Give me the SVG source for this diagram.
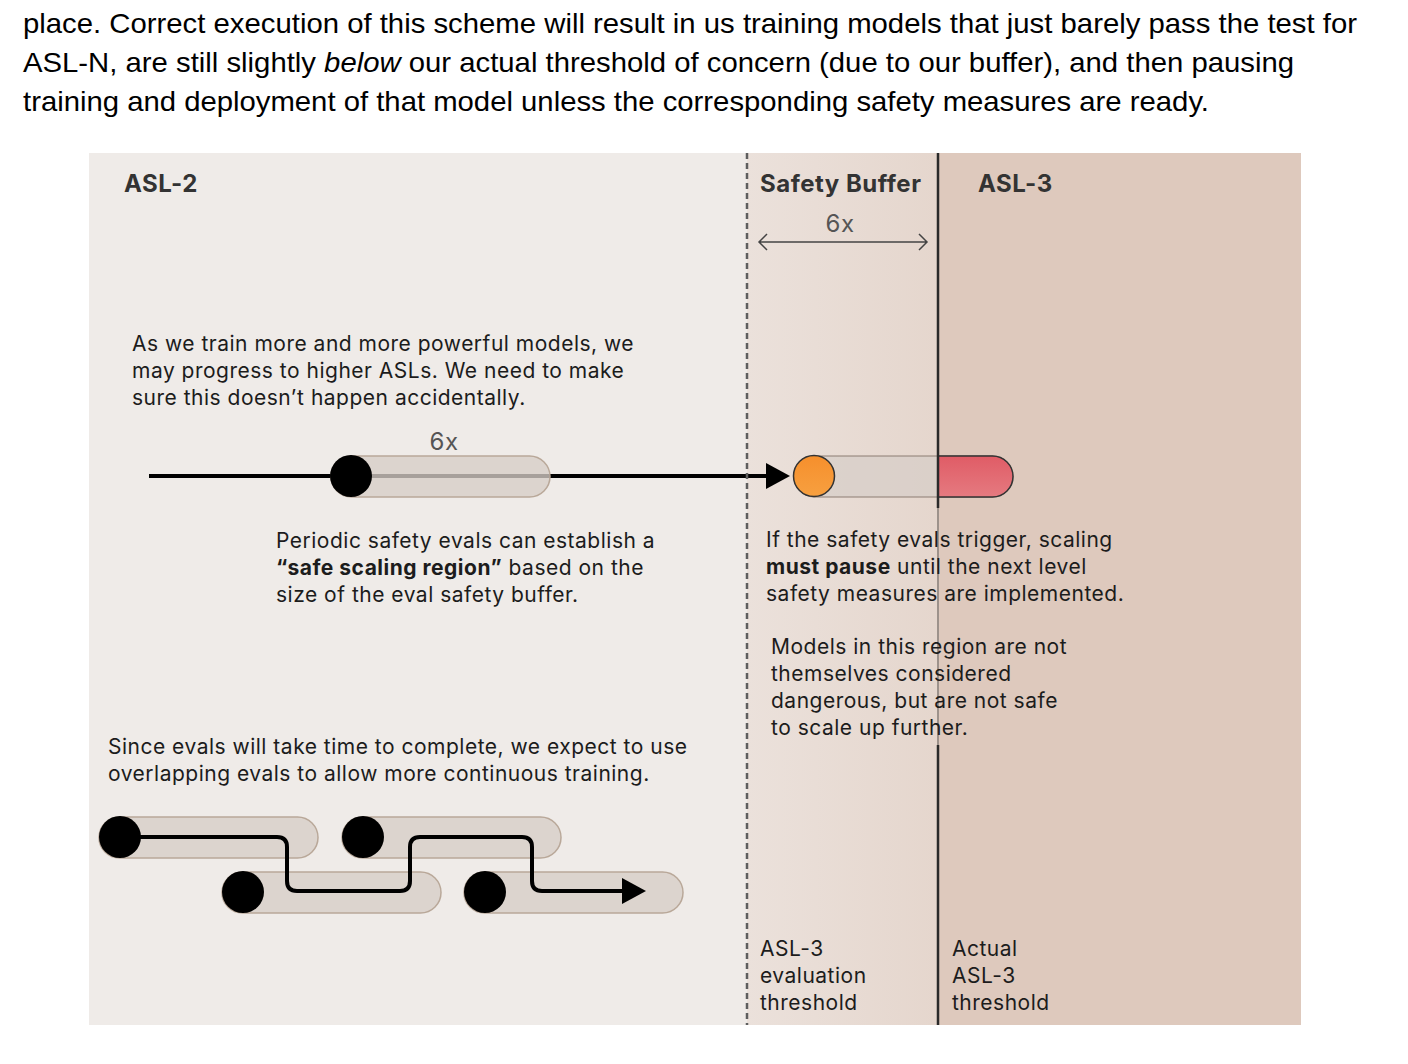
<svg xmlns="http://www.w3.org/2000/svg" width="1408" height="1064" viewBox="0 0 1408 1064">
  <style>
    .top { font-family: "Liberation Sans", Arial, sans-serif; font-size: 28px; fill: #000; }
    .hd { font-family: Inter, "Noto Sans", sans-serif; font-size: 24px; font-weight: 700; fill: #333; letter-spacing: 0.5px; }
    .body { font-family: Inter, "Noto Sans", sans-serif; font-size: 21px; fill: #1c1c1c; letter-spacing: 0.5px; }
    .num { font-family: Inter, "Noto Sans", sans-serif; font-size: 24px; fill: #555; text-anchor: middle; letter-spacing: 0.5px; }
    .b { font-weight: 700; }
    .cap { fill: #d6cdc7; fill-opacity: 0.78; stroke: #b9a899; stroke-width: 1.5; }
    .dot { fill: #000; }
    .conn { fill: none; stroke: #000; stroke-width: 4; }
  </style>
  <defs>
    <linearGradient id="bufGrad" x1="0" y1="0" x2="1" y2="0">
      <stop offset="0" stop-color="#ebe1db"/>
      <stop offset="1" stop-color="#e5d6cd"/>
    </linearGradient>
    <linearGradient id="redGrad" x1="0" y1="0" x2="0" y2="1">
      <stop offset="0" stop-color="#e05c66"/>
      <stop offset="1" stop-color="#e57a80"/>
    </linearGradient>
    <linearGradient id="orGrad" x1="0" y1="0" x2="0" y2="1">
      <stop offset="0" stop-color="#f68f2c"/>
      <stop offset="1" stop-color="#f7a040"/>
    </linearGradient>
  </defs>

  <rect x="0" y="0" width="1408" height="1064" fill="#fff"/>

  <g id="intro-text">
    <text class="top" x="23" y="33" textLength="1334" lengthAdjust="spacingAndGlyphs">place. Correct execution of this scheme will result in us training models that just barely pass the test for</text>
    <text class="top" x="23" y="72" textLength="1271" lengthAdjust="spacingAndGlyphs">ASL-N, are still slightly <tspan font-style="italic">below</tspan> our actual threshold of concern (due to our buffer), and then pausing</text>
    <text class="top" x="23" y="111" textLength="1186" lengthAdjust="spacingAndGlyphs">training and deployment of that model unless the corresponding safety measures are ready.</text>
  </g>

  <g id="regions">
    <rect id="asl2-region" x="89" y="153" width="658" height="872" fill="#efebe8"/>
    <rect id="buffer-region" x="747" y="153" width="191" height="872" fill="url(#bufGrad)"/>
    <rect id="asl3-region" x="938" y="153" width="363" height="872" fill="#dec9bd"/>
  </g>

  <g id="headers">
    <text id="asl2-title" class="hd" x="124" y="192">ASL-2</text>
    <text id="buffer-title" class="hd" x="760" y="192">Safety Buffer</text>
    <text id="asl3-title" class="hd" x="978" y="192">ASL-3</text>
  </g>

  <g id="buffer-span">
    <text class="num" x="840" y="232">6x</text>
    <path d="M759,242 H927 M767,234 L759,242 L767,250 M919,234 L927,242 L919,250" fill="none" stroke="#444" stroke-width="1.5"/>
  </g>

  <g id="text-progress">
    <text class="body" x="132" y="351">As we train more and more powerful models, we</text>
    <text class="body" x="132" y="378">may progress to higher ASLs. We need to make</text>
    <text class="body" x="132" y="405">sure this doesn’t happen accidentally.</text>
  </g>

  <g id="connectors">
    <line x1="149" y1="476" x2="768" y2="476" stroke="#000" stroke-width="4"/>
    <polygon points="766,463 790,476 766,489" fill="#000"/>
  </g>

  <g id="eval-window">
    <text class="num" x="444" y="450">6x</text>
    <rect class="cap" x="331" y="456" width="219" height="41" rx="20.5"/>
    <circle class="dot" cx="351" cy="476" r="21"/>
  </g>

  <g id="triggered-model">
    <rect x="794" y="456" width="219" height="41" rx="20.5" fill="#d6cdc7" fill-opacity="0.7" stroke="#8c7d73" stroke-width="1"/>
    <path d="M938,456 H992.5 A20.5,20.5 0 0 1 992.5,497 H938 Z" fill="url(#redGrad)" stroke="#333" stroke-width="1.5"/>
    <circle cx="814" cy="476" r="20.5" fill="url(#orGrad)" stroke="#333" stroke-width="1.5"/>
  </g>

  <g id="thresholds">
    <line id="eval-threshold" x1="747" y1="153" x2="747" y2="1025" stroke="#5e5e5e" stroke-width="2.5" stroke-dasharray="6 4"/>
    <line id="actual-threshold" x1="938" y1="153" x2="938" y2="508" stroke="#2a2a2a" stroke-width="2.5"/>
    <line x1="938" y1="508" x2="938" y2="745" stroke="#9d928b" stroke-width="2"/>
    <line x1="938" y1="745" x2="938" y2="1025" stroke="#2a2a2a" stroke-width="2.5"/>
  </g>

  <g id="text-periodic">
    <text class="body" x="276" y="548">Periodic safety evals can establish a</text>
    <text class="body" x="276" y="575"><tspan class="b">“safe scaling region”</tspan> based on the</text>
    <text class="body" x="276" y="602">size of the eval safety buffer.</text>
  </g>

  <g id="text-trigger">
    <text class="body" x="766" y="547">If the safety evals trigger, scaling</text>
    <text class="body" x="766" y="574"><tspan class="b">must pause</tspan> until the next level</text>
    <text class="body" x="766" y="601" fill="#3a3a3a">safety measures are implemented.</text>
  </g>

  <g id="text-buffer-models">
    <text class="body" x="771" y="654">Models in this region are not</text>
    <text class="body" x="771" y="681">themselves considered</text>
    <text class="body" x="771" y="708">dangerous, but are not safe</text>
    <text class="body" x="771" y="735">to scale up further.</text>
  </g>

  <g id="text-overlap">
    <text class="body" x="108" y="754">Since evals will take time to complete, we expect to use</text>
    <text class="body" x="108" y="781">overlapping evals to allow more continuous training.</text>
  </g>

  <g id="overlapping-evals">
    <rect class="cap" x="99" y="817" width="219" height="41" rx="20.5"/>
    <rect class="cap" x="342" y="817" width="219" height="41" rx="20.5"/>
    <rect class="cap" x="222" y="872" width="219" height="41" rx="20.5"/>
    <rect class="cap" x="464" y="872" width="219" height="41" rx="20.5"/>
  </g>

  <g id="overlap-path">
    <path class="conn" d="M120,837 H277 Q287,837 287,847 V881 Q287,891 297,891 H400 Q410,891 410,881 V847 Q410,837 420,837 H522 Q532,837 532,847 V881 Q532,891 542,891 H624"/>
    <polygon points="622,878 646,891 622,904" fill="#000"/>
    <circle class="dot" cx="120" cy="837" r="21"/>
    <circle class="dot" cx="363" cy="837" r="21"/>
    <circle class="dot" cx="243" cy="892" r="21"/>
    <circle class="dot" cx="485" cy="892" r="21"/>
  </g>

  <g id="label-eval-threshold">
    <text class="body" x="760" y="956">ASL-3</text>
    <text class="body" x="760" y="983">evaluation</text>
    <text class="body" x="760" y="1010">threshold</text>
  </g>

  <g id="label-actual-threshold">
    <text class="body" x="952" y="956">Actual</text>
    <text class="body" x="952" y="983">ASL-3</text>
    <text class="body" x="952" y="1010">threshold</text>
  </g>
</svg>
